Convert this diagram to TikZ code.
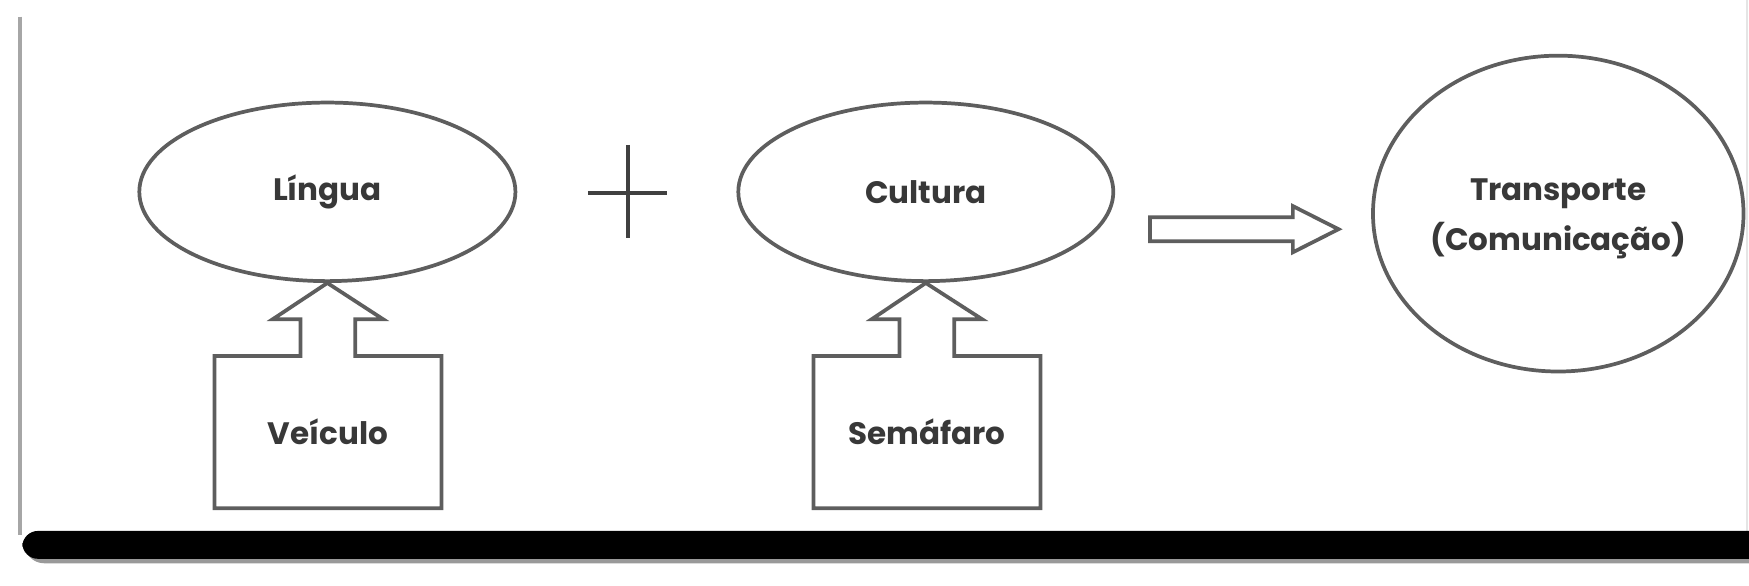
\documentclass[tikz,border=0pt]{standalone}
\usepackage{fontspec}
\setmainfont{Poppins}
\usetikzlibrary{shapes.geometric}
\definecolor{linegray}{HTML}{5E5E5E}
\definecolor{textgray}{HTML}{383838}
\tikzset{
  oval/.style={ellipse, draw=linegray, line width=0.95pt, inner sep=0pt,
    font=\fontsize{7.9}{12.8}\selectfont\bfseries, text=textgray, align=center},
  lbl/.style={inner sep=0pt, font=\fontsize{7.9}{12.8}\selectfont\bfseries, text=textgray, align=center},
  srcbox/.style={rectangle, inner sep=0pt, minimum width=2.02cm, minimum height=1.35cm,
    font=\fontsize{7.9}{11}\selectfont\bfseries, text=textgray},
  outline/.style={draw=linegray, line width=0.95pt, line join=miter},
  plusline/.style={draw=black!75, line width=1.1pt}
}
\begin{document}
\begin{tikzpicture}[x=0.01cm, y=-0.01cm]
\useasboundingbox (0,0) rectangle (1568,525);
% frame
\draw[gray!70, line width=1pt] (18,15) -- (18,480);
\draw[gray!20, line width=0.6pt] (1566,0) -- (1566,476);
\fill[black!40, rounded corners=5pt] (22,478) rectangle (1600,505);
\fill[black, rounded corners=4pt] (20,476) rectangle (1600,501);
% ellipses
\node[oval, minimum width=3.37cm, minimum height=1.60cm] (lingua) at (293.5,172) {L\'{\i}ngua};
\node[oval, minimum width=3.36cm, minimum height=1.60cm] (cultura) at (830,172) {Cultura};
\node[oval, minimum width=3.32cm, minimum height=2.83cm] (transp) at (1397,191.5) {};
\node[lbl] (transptxt) at ([yshift=-0.05cm]transp.center) {Transporte\\(Comunica\c{c}\~{a}o)};
% boxes
\node[srcbox] (veiculo) at (294,387.5) {Ve\'{\i}culo};
\node[srcbox] (semaforo) at (831,387.5) {Sem\'{a}faro};
% box + block arrow outlines
\foreach \b/\e in {veiculo/lingua, semaforo/cultura}{
  \draw[outline] (\b.south west) -- (\b.north west)
    -- ([xshift=-0.245cm]\b.north) -- ([xshift=-0.245cm, yshift=0.33cm]\b.north)
    -- ([xshift=-0.495cm, yshift=0.33cm]\b.north) -- (\e.south)
    -- ([xshift=0.495cm, yshift=0.33cm]\b.north) -- ([xshift=0.245cm, yshift=0.33cm]\b.north)
    -- ([xshift=0.245cm]\b.north) -- (\b.north east) -- (\b.south east) -- cycle;
}
% plus sign
\coordinate (plus) at (563,173);
\draw[plusline] ([xshift=-0.36cm]plus) -- ([xshift=0.35cm]plus);
\draw[plusline] ([yshift=0.43cm]plus) -- ([yshift=-0.40cm]plus);
% hollow arrow
\coordinate (arrS) at (1031,205.5);
\coordinate (arrT) at (1200,205.5);
\draw[outline] ([yshift=0.1075cm]arrS) -- ([xshift=1.28cm, yshift=0.1075cm]arrS)
  -- ([xshift=1.28cm, yshift=0.207cm]arrS) -- (arrT)
  -- ([xshift=1.28cm, yshift=-0.207cm]arrS) -- ([xshift=1.28cm, yshift=-0.1075cm]arrS)
  -- ([yshift=-0.1075cm]arrS) -- cycle;
\end{tikzpicture}
\end{document}
